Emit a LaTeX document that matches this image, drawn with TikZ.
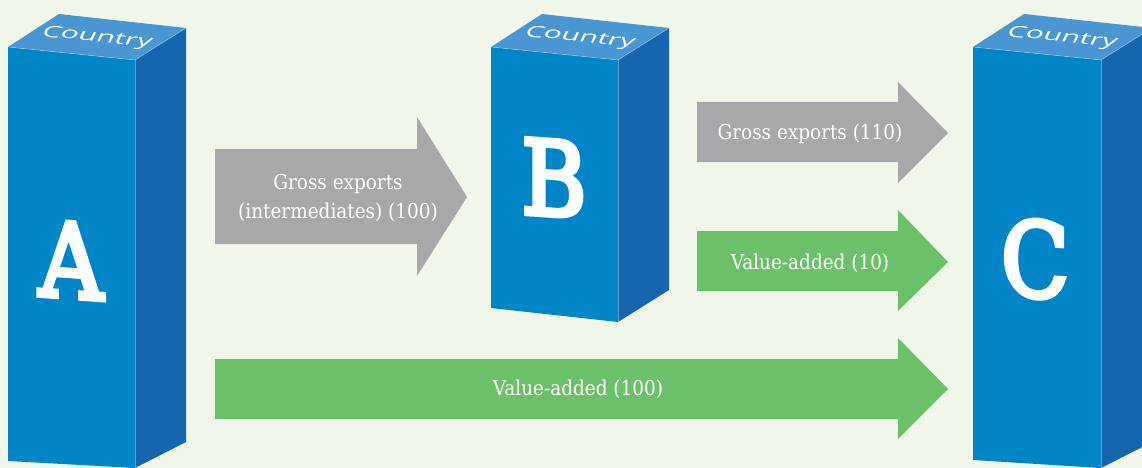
\documentclass[tikz,border=0pt]{standalone}
\usepackage{fontspec}
\setmainfont{DejaVu Serif Condensed}
\newfontfamily\letterfont{DejaVu Serif}[FakeBold=5]
\newfontfamily\topfont{Open Sans}
\definecolor{bgc}{HTML}{F0F6E9}
\definecolor{frontc}{HTML}{0085C6}
\definecolor{sidec}{HTML}{1566AF}
\definecolor{topc}{HTML}{4A96D2}
\definecolor{grayar}{HTML}{A7A8AA}
\definecolor{greenar}{HTML}{6CC06A}
\tikzset{
  front/.style={fill=frontc},
  side/.style={fill=sidec},
  topface/.style={fill=topc},
  edge/.style={draw=white, draw opacity=0.35, line width=0.6pt},
  grayarrow/.style={fill=grayar},
  greenarrow/.style={fill=greenar},
  lbl/.style={text=white, font=\fontsize{20.5}{29}\selectfont, align=center, inner sep=0pt},
  bigletter/.style={text=white, font=\letterfont\fontsize{103}{103}\selectfont, inner sep=0pt, yslant=-0.07, xscale=0.86},
  ctry/.style={text=white, font=\topfont\fontsize{19}{19}\selectfont, inner sep=0pt, rotate=-6, xslant=0.35, xscale=1.55, yscale=0.85}
}
\begin{document}
\begin{tikzpicture}[x=1pt,y=-1pt]
\fill[bgc] (0,0) rectangle (1142,468);
\useasboundingbox (0,0) rectangle (1142,468);
% Box A
\fill[front] (8,47) -- (135,60) -- (135,468) -- (8,461) -- cycle;
\fill[side] (135,60) -- (186,28) -- (186,442) -- (135,468) -- cycle;
\fill[topface] (8,47) -- (59,14) -- (186,28) -- (135,60) -- cycle;
\draw[edge] (8,47) -- (135,60) -- (186,28);
\draw[edge] (135,60) -- (135,468);
% Box B
\fill[front] (491,47) -- (618,60) -- (618,322) -- (491,308) -- cycle;
\fill[side] (618,60) -- (669,28) -- (669,290) -- (618,322) -- cycle;
\fill[topface] (491,47) -- (542,14) -- (669,28) -- (618,60) -- cycle;
\draw[edge] (491,47) -- (618,60) -- (669,28);
\draw[edge] (618,60) -- (618,322);
% Box C
\fill[front] (973,47) -- (1101,60) -- (1101,468) -- (973,460) -- cycle;
\fill[side] (1101,60) -- (1152,28) -- (1152,442) -- (1101,468) -- cycle;
\fill[topface] (973,47) -- (1024,14) -- (1152,28) -- (1101,60) -- cycle;
\draw[edge] (973,47) -- (1101,60) -- (1152,28);
\draw[edge] (1101,60) -- (1101,468);
% Top labels
\node[ctry] (ctryA) at (97,38) {Country};
\node[ctry] (ctryB) at (580,38) {Country};
\node[ctry] (ctryC) at (1062,38) {Country};
% Letters
\node[bigletter] (A) at (71,260) {A};
\node[bigletter] (B) at (554,178) {B};
\node[bigletter] (C) at (1035,259) {C};
% Arrows
\fill[grayarrow] (215,149) -- (417,149) -- (417,117) -- (467,197) -- (417,276) -- (417,244) -- (215,244) -- cycle;
\fill[grayarrow] (697,102) -- (898,102) -- (898,82) -- (948,133) -- (898,183) -- (898,162) -- (697,162) -- cycle;
\fill[greenarrow] (697,231) -- (898,231) -- (898,210) -- (948,262) -- (898,311) -- (898,291) -- (697,291) -- cycle;
\fill[greenarrow] (215,359) -- (898,359) -- (898,338) -- (948,389) -- (898,439) -- (898,419) -- (215,419) -- cycle;
% Arrow labels
\node[lbl] (l1) at (338,198) {Gross exports\\(intermediates) (100)};
\node[lbl] (l2) at (810,134) {Gross exports (110)};
\node[lbl] (l3) at (810,263) {Value-added (10)};
\node[lbl] (l4) at (578,389) {Value-added (100)};
\end{tikzpicture}
\end{document}
